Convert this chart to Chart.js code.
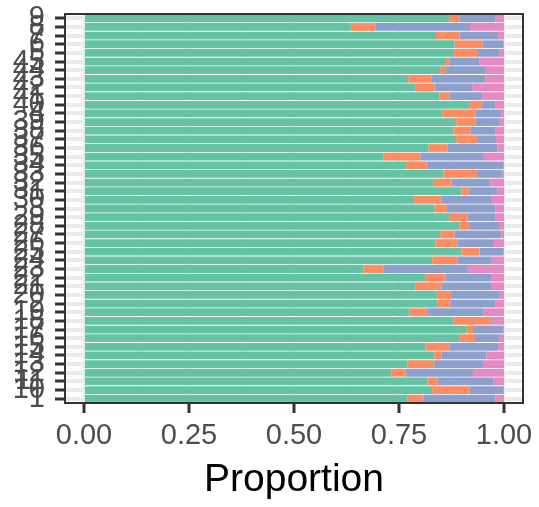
<!DOCTYPE html>
<html>
<head>
<meta charset="utf-8">
<script src="https://cdn.jsdelivr.net/npm/chart.js@4.4.0/dist/chart.umd.min.js"></script>
<style>
html, body { margin: 0; padding: 0; background: #ffffff; }
</style>
</head>
<body>
<canvas id="grafico" width="539" height="507"></canvas>
<script>
// categories, top to bottom (factor levels sorted as text)
var categorias = ['9', '8', '7', '6', '5', '45', '44', '43', '42', '41', '40', '4',
    '39', '38', '37', '36', '35', '34', '33', '32', '31', '30', '3',
    '29', '28', '27', '26', '25', '24', '23', '22', '21', '20', '2',
    '19', '18', '17', '16', '15', '14', '13', '12', '11', '10', '1'];

// proportions per category, same order
var serieVerde = [0.871, 0.635, 0.838, 0.882, 0.881, 0.862, 0.848, 0.772, 0.790, 0.846, 0.917, 0.853,
    0.886, 0.879, 0.886, 0.820, 0.713, 0.767, 0.856, 0.833, 0.899, 0.786, 0.834,
    0.871, 0.894, 0.848, 0.837, 0.899, 0.829, 0.666, 0.814, 0.789, 0.840, 0.842,
    0.775, 0.879, 0.911, 0.895, 0.813, 0.834, 0.770, 0.732, 0.818, 0.829, 0.770];
var serieLaranja = [0.024, 0.060, 0.056, 0.067, 0.055, 0.009, 0.014, 0.056, 0.045, 0.024, 0.031, 0.080,
    0.047, 0.041, 0.050, 0.045, 0.088, 0.050, 0.080, 0.042, 0.017, 0.066, 0.030,
    0.042, 0.023, 0.034, 0.053, 0.043, 0.061, 0.048, 0.047, 0.063, 0.034, 0.030,
    0.044, 0.092, 0.015, 0.036, 0.057, 0.017, 0.064, 0.033, 0.024, 0.089, 0.039];
var serieAzul = [0.084, 0.224, 0.092, 0.049, 0.054, 0.071, 0.095, 0.128, 0.090, 0.078, 0.031, 0.061,
    0.055, 0.059, 0.045, 0.119, 0.151, 0.181, 0.060, 0.092, 0.068, 0.119, 0.115,
    0.066, 0.073, 0.112, 0.086, 0.056, 0.081, 0.200, 0.110, 0.117, 0.116, 0.107,
    0.131, 0.004, 0.072, 0.057, 0.116, 0.107, 0.116, 0.161, 0.132, 0.080, 0.170];
var serieRosa = [0.021, 0.081, 0.014, 0.002, 0.010, 0.058, 0.043, 0.044, 0.075, 0.052, 0.021, 0.006,
    0.012, 0.021, 0.019, 0.016, 0.048, 0.002, 0.004, 0.033, 0.016, 0.029, 0.021,
    0.021, 0.010, 0.006, 0.024, 0.002, 0.029, 0.086, 0.029, 0.031, 0.010, 0.021,
    0.050, 0.025, 0.002, 0.012, 0.014, 0.042, 0.050, 0.074, 0.026, 0.002, 0.021];

// x axis ticks
var ticksX = [0, 0.25, 0.5, 0.75, 1];
var ticksMenores = [0.125, 0.375, 0.625, 0.875];

var fonte = 'Liberation Sans, Arial, Helvetica, sans-serif';

function ehMaior(c) {
    return c.tick && ticksX.indexOf(c.tick.value) > -1;
}

// dark border around the panel
var bordaPainel = {
    id: 'bordaPainel',
    afterDatasetsDraw: function(chart) {
        var a = chart.chartArea;
        var ctx = chart.ctx;
        ctx.save();
        ctx.strokeStyle = '#333333';
        ctx.lineWidth = 2;
        ctx.strokeRect(a.left, a.top, a.right - a.left, a.bottom - a.top);
        ctx.restore();
    }
};

function serie(nome, dados, cor) {
    return {
        label: nome,
        data: dados,
        backgroundColor: cor,
        borderWidth: 0,
        barPercentage: 0.9,
        categoryPercentage: 1.0
    };
}

var ctx = document.getElementById('grafico').getContext('2d');
var grafico = new Chart(ctx, {
    type: 'bar',
    data: {
        labels: categorias,
        datasets: [
            serie('A', serieVerde, '#66c2a5'),
            serie('B', serieLaranja, '#fc8d62'),
            serie('C', serieAzul, '#8da0cb'),
            serie('D', serieRosa, '#e78ac3')
        ]
    },
    options: {
        indexAxis: 'y',
        responsive: false,
        animation: false,
        layout: { padding: { top: 14, right: 16, bottom: 0, left: 0 } },
        plugins: {
            legend: { display: false },
            tooltip: { enabled: false }
        },
        scales: {
            x: {
                stacked: true,
                min: -0.0452,
                max: 1.0452,
                afterBuildTicks: function(s) {
                    s.ticks = ticksX.concat(ticksMenores).sort(function(a, b) { return a - b; })
                        .map(function(v) { return { value: v }; });
                },
                afterFit: function(s) {
                    s.height = 104;
                    s.paddingLeft = 0;
                    s.paddingRight = 0;
                },
                border: { display: false },
                grid: {
                    color: '#ebebeb',
                    lineWidth: function(c) { return ehMaior(c) ? 2 : 1; },
                    tickColor: function(c) { return ehMaior(c) ? '#333333' : 'rgba(0,0,0,0)'; },
                    tickLength: 10,
                    tickWidth: 3
                },
                ticks: {
                    autoSkip: false,
                    maxRotation: 0,
                    color: '#4d4d4d',
                    padding: 6,
                    font: { size: 29, family: fonte },
                    callback: function(v) {
                        return ticksX.indexOf(v) > -1 ? v.toFixed(2) : '';
                    }
                },
                title: {
                    display: true,
                    text: 'Proportion',
                    color: '#000000',
                    font: { size: 39, family: fonte },
                    padding: { top: 0, bottom: 3 }
                }
            },
            y: {
                stacked: true,
                offset: true,
                afterFit: function(s) {
                    s.width = 65;
                    s.paddingTop = 0;
                    s.paddingBottom = 0;
                },
                border: { display: false },
                grid: {
                    offset: false,
                    color: '#ebebeb',
                    lineWidth: 4,
                    tickColor: '#333333',
                    tickLength: 10,
                    tickWidth: 3
                },
                ticks: {
                    autoSkip: false,
                    color: '#4d4d4d',
                    padding: 10,
                    font: { size: 29, family: fonte }
                }
            }
        }
    },
    plugins: [bordaPainel]
});
</script>
</body>
</html>
